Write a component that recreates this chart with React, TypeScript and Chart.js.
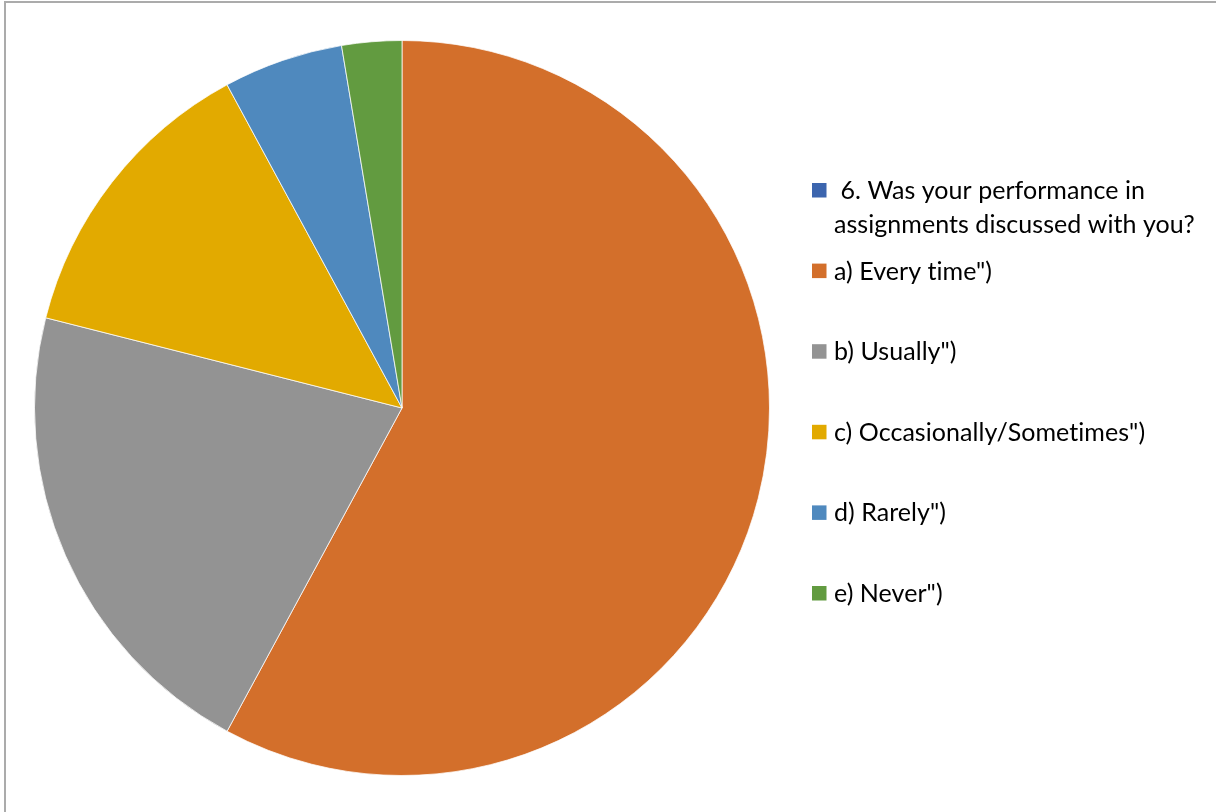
import React, { useEffect, useRef } from "react";
import { Chart, registerables } from "chart.js";

Chart.register(...registerables);

const categories: string[] = [
  " 6. Was your performance in assignments discussed with you?",
  'a) Every time")',
  'b) Usually")',
  'c) Occasionally/Sometimes")',
  'd) Rarely")',
  'e) Never")',
];
const responses: number[] = [0, 22, 8, 5, 2, 1];
const sliceColors: string[] = ["#3C65AE", "#D36F2B", "#939393", "#E2AA00", "#4F89BE", "#629B40"];

const LEGEND_FONT = "25px Lato";
const LEGEND_SQUARE_X = 812;
const LEGEND_TEXT_X = 834;
const LEGEND_FIRST_BASELINE = 199;
const LEGEND_STEP = 80.6;
const LEGEND_LINE_HEIGHT = 33.5;
const LEGEND_MAX_WIDTH = 376;

function wrapText(ctx: CanvasRenderingContext2D, text: string, maxWidth: number): string[] {
  const words = text.split(" ");
  const lines: string[] = [];
  let current = "";
  words.forEach((w, i) => {
    const candidate = i === 0 ? w : current + " " + w;
    if (current !== "" && current.trim() !== "" && ctx.measureText(candidate).width > maxWidth) {
      lines.push(current);
      current = w;
    } else {
      current = candidate;
    }
  });
  if (current) lines.push(current);
  return lines;
}

const sideLegend = {
  id: "sideLegend",
  afterDraw(chart: any) {
    const ctx: any = chart.ctx;
    const labels: string[] = chart.data.labels;
    const colors: string[] = chart.data.datasets[0].backgroundColor;
    ctx.save();
    ctx.font = LEGEND_FONT;
    ctx.textBaseline = "alphabetic";
    ctx.textAlign = "left";
    if ("letterSpacing" in ctx) ctx.letterSpacing = "0.05px";
    labels.forEach((label, i) => {
      const baseline = LEGEND_FIRST_BASELINE + i * LEGEND_STEP;
      ctx.fillStyle = colors[i];
      ctx.fillRect(LEGEND_SQUARE_X, baseline - 16, 14.5, 14.5);
      ctx.fillStyle = "#000000";
      const lines = wrapText(ctx, label, LEGEND_MAX_WIDTH);
      lines.forEach((ln, j) => {
        ctx.fillText(ln, LEGEND_TEXT_X, baseline + j * LEGEND_LINE_HEIGHT);
      });
    });
    ctx.restore();
  },
};

export default function App() {
  const canvasRef = useRef<HTMLCanvasElement | null>(null);

  useEffect(() => {
    document.body.style.margin = "0";
    const canvas = canvasRef.current;
    if (!canvas) return;
    const chart = new Chart(canvas, {
      type: "pie",
      data: {
        labels: categories,
        datasets: [
          {
            data: responses,
            backgroundColor: sliceColors,
            borderColor: "rgba(255,255,255,0.75)",
            borderWidth: 1,
          },
        ],
      },
      options: {
        responsive: false,
        animation: false,
        layout: { padding: { left: 34, top: 40, right: 446, bottom: 36 } },
        plugins: {
          legend: { display: false },
          tooltip: { enabled: false },
          title: { display: false },
        },
      },
      plugins: [sideLegend],
    });
    return () => chart.destroy();
  }, []);

  return (
    <div style={{ position: "relative", width: 1216, height: 812, overflow: "hidden", background: "#ffffff" }}>
      <canvas ref={canvasRef} width={1216} height={812} style={{ position: "absolute", left: 0, top: 0 }} />
      <div
        style={{
          position: "absolute",
          left: 4,
          top: 1,
          width: 1240,
          height: 840,
          borderTop: "2px solid #ABABAB",
          borderLeft: "2px solid #ABABAB",
          pointerEvents: "none",
        }}
      />
    </div>
  );
}
